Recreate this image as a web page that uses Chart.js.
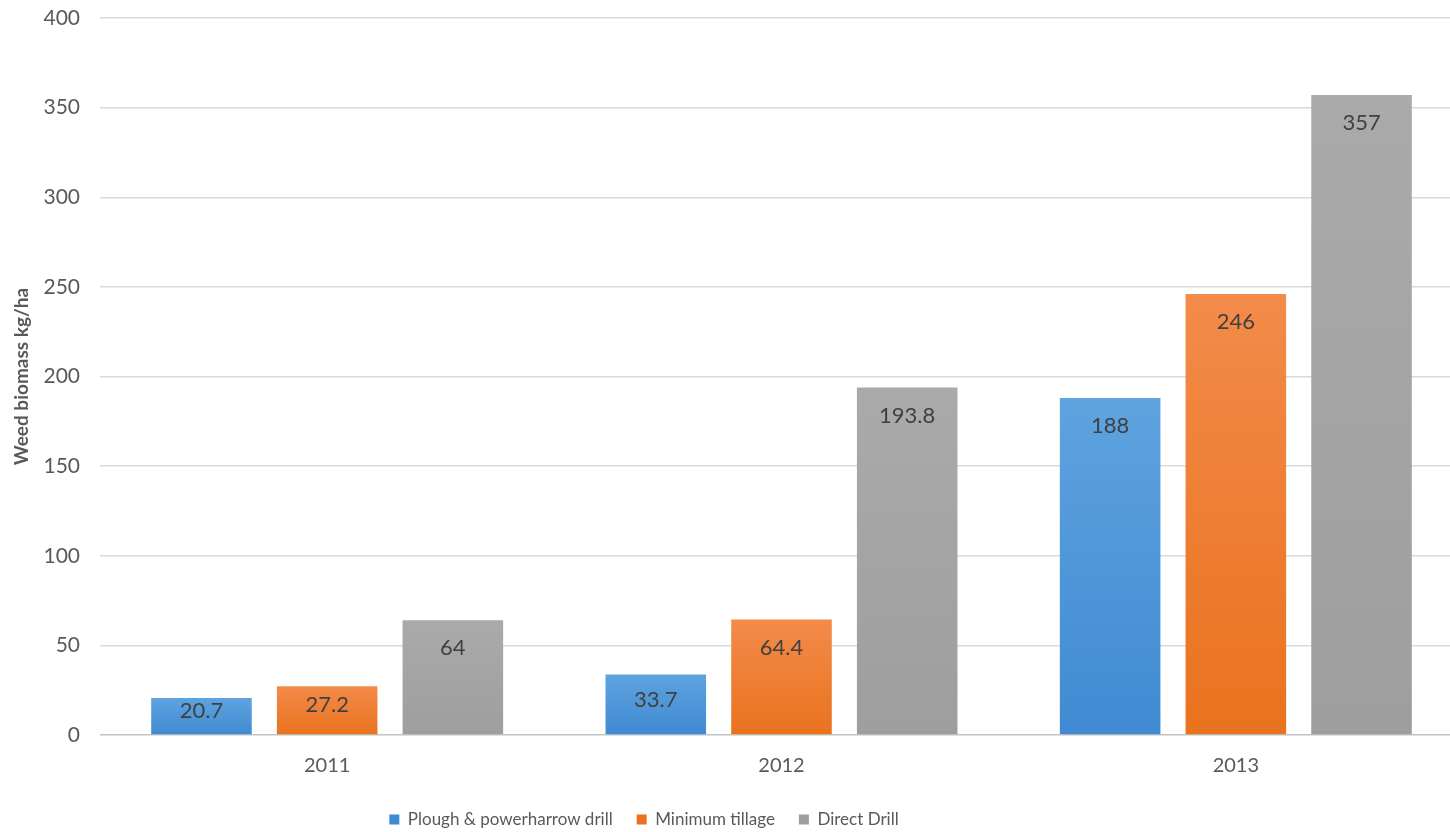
<!DOCTYPE html>
<html lang="en">
<head>
  <meta charset="UTF-8">
  <title>Weed biomass</title>
  <script src="https://cdn.jsdelivr.net/npm/chart.js"></script>
  <style>
    html, body { margin: 0; padding: 0; background: #fff; overflow: hidden; }
    #wrap { position: relative; width: 1470px; height: 838px; }
  </style>
</head>
<body>
  <div id="wrap"><canvas id="biomassChart"></canvas></div>

  <script>
    // data
    const years = ['2011', '2012', '2013'];
    const plough = [20.7, 33.7, 188];
    const minTill = [27.2, 64.4, 246];
    const directDrill = [64, 193.8, 357];
    const yTicks = [0, 50, 100, 150, 200, 250, 300, 350, 400];

    const seriesNames = ['Plough & powerharrow drill', 'Minimum tillage', 'Direct Drill'];
    // [top, bottom, legend] colours per series
    const seriesColours = [
      ['#5fa3e0', '#3f8ad2', '#4a94d9'],
      ['#f38b4a', '#e9721e', '#ee7d31'],
      ['#aaaaaa', '#9e9e9e', '#a5a5a5']
    ];

    const FONT = 'Lato, "Open Sans", sans-serif';
    const TEXT = '#595959';

    // vertical gradient per bar, lighter at the top
    function barFill(i) {
      return function(ctx) {
        const chart = ctx.chart;
        const y = chart.scales && chart.scales.y;
        if (ctx.type !== 'data' || !y || !chart.chartArea) return seriesColours[i][2];
        const top = y.getPixelForValue(ctx.parsed ? ctx.parsed.y : ctx.raw);
        const bottom = y.getPixelForValue(0);
        if (!isFinite(top) || !isFinite(bottom) || top === bottom) return seriesColours[i][2];
        const g = chart.ctx.createLinearGradient(0, top, 0, bottom);
        g.addColorStop(0, seriesColours[i][0]);
        g.addColorStop(1, seriesColours[i][1]);
        return g;
      };
    }

    // value labels just inside the top of each bar
    const valueLabels = {
      id: 'valueLabels',
      afterDatasetsDraw(chart) {
        const ctx = chart.ctx;
        ctx.save();
        ctx.font = '22px ' + FONT;
        ctx.fillStyle = '#404040';
        ctx.textAlign = 'center';
        ctx.textBaseline = 'middle';
        chart.data.datasets.forEach((ds, di) => {
          chart.getDatasetMeta(di).data.forEach((bar, j) => {
            const h = bar.base - bar.y;
            const ly = Math.min(bar.y + 28, bar.y + h / 2 - 5);
            ctx.fillText(String(ds.data[j]), bar.x, ly);
          });
        });
        ctx.restore();
      }
    };

    // legend sits left of centre in the reference
    const legendShift = {
      id: 'legendShift',
      afterLayout(chart) {
        const lg = chart.legend;
        const w = lg.right - lg.left;
        const centre = 644;
        lg.left = centre - w / 2;
        lg.right = centre + w / 2;
      }
    };

    const ctx = document.getElementById('biomassChart').getContext('2d');
    const chart = new Chart(ctx, {
      type: 'bar',
      data: {
        labels: years,
        datasets: [
          { label: seriesNames[0], data: plough, backgroundColor: barFill(0) },
          { label: seriesNames[1], data: minTill, backgroundColor: barFill(1) },
          { label: seriesNames[2], data: directDrill, backgroundColor: barFill(2) }
        ]
      },
      options: {
        responsive: true,
        maintainAspectRatio: false,
        animation: false,
        datasets: {
          bar: { categoryPercentage: 0.83, barPercentage: 0.80 }
        },
        layout: { padding: { top: 18, right: 7, left: 0, bottom: 0 } },
        scales: {
          x: {
            grid: { display: false },
            border: { display: false },
            afterFit(scale) { scale.height = 52; },
            ticks: { color: TEXT, font: { family: FONT, size: 20 }, padding: 11 }
          },
          y: {
            min: 0,
            max: 400,
            afterBuildTicks(scale) { scale.ticks = yTicks.map(v => ({ value: v })); },
            afterFit(scale) {
              scale.width = 100;
              scale.paddingTop = 0;
            },
            border: { display: false },
            grid: {
              drawTicks: false,
              lineWidth: 1.5,
              color: c => (c.tick && c.tick.value === 0 ? '#c4c4c4' : '#d9d9d9')
            },
            ticks: { color: TEXT, font: { family: FONT, size: 21 }, padding: 20 },
            title: {
              display: true,
              text: 'Weed biomass kg/ha',
              color: TEXT,
              font: { family: FONT, size: 19, weight: 'bold' },
              padding: { top: 10, bottom: 0 }
            }
          }
        },
        plugins: {
          legend: {
            position: 'bottom',
            labels: {
              color: TEXT,
              font: { family: FONT, size: 17 },
              boxWidth: 10,
              boxHeight: 10,
              padding: 24
            }
          },
          tooltip: { enabled: false }
        }
      },
      plugins: [valueLabels, legendShift]
    });
  </script>
</body>
</html>
